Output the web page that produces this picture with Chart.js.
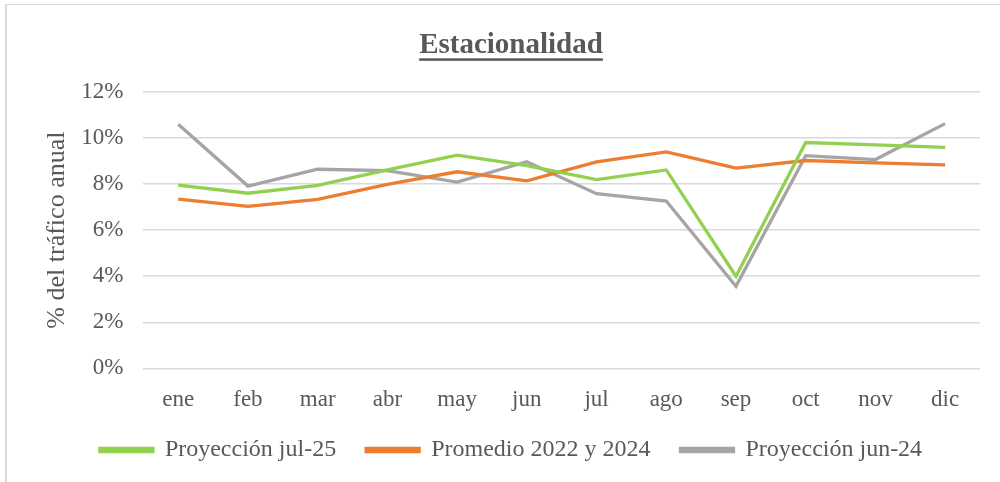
<!DOCTYPE html>
<html>
<head>
<meta charset="utf-8">
<script src="https://cdn.jsdelivr.net/npm/chart.js@4.4.0/dist/chart.umd.min.js"></script>
<style>
  body { margin: 0; background: #fff; }
  #frame { position: absolute; left: 5px; top: 4px; width: 1000px; height: 490px;
           border-top: 1px solid #d9d9d9; border-left: 2px solid #d9d9d9; }
  #wrap { position: absolute; left: 0; top: 0; width: 1000px; height: 482px; }
</style>
</head>
<body>
<div id="frame"></div>
<div id="wrap"><canvas id="estacionalidad_canvas"></canvas></div>
<script>
var meses = ['ene','feb','mar','abr','may','jun','jul','ago','sep','oct','nov','dic'];
var proyeccion_jul25 = [7.95, 7.60, 7.94, 8.61, 9.25, 8.80, 8.19, 8.61, 4.00, 9.80, 9.70, 9.59];
var promedio_2022_2024 = [7.34, 7.03, 7.33, 7.98, 8.53, 8.14, 8.96, 9.39, 8.69, 9.02, 8.92, 8.83];
var proyeccion_jun24 = [10.59, 7.91, 8.64, 8.58, 8.08, 8.97, 7.58, 7.26, 3.56, 9.23, 9.06, 10.62];
var y_ticks = [0, 2, 4, 6, 8, 10, 12];

var text_color = '#595959';
var serif = "'Liberation Serif', 'Times New Roman', serif";
var x_axis_squeeze = 16;

// underline under the chart title
var title_underline = {
  id: 'title_underline',
  afterLayout: function(chart)
  {
    // x axis box was shrunk to pull the legend up; widen it back so labels are not clipped
    chart.scales.x.bottom += x_axis_squeeze;
  },
  afterDraw: function(chart)
  {
    var ctx = chart.ctx;
    var tb = chart.titleBlock;
    var title_opts = chart.options.plugins.title;
    ctx.save();
    ctx.font = 'bold 29px ' + serif;
    var w = ctx.measureText(title_opts.text).width;
    var cx = (tb.left + tb.right) / 2;
    ctx.fillStyle = text_color;
    ctx.fillRect(cx - w / 2, tb.bottom - title_opts.padding.bottom - 4.5, w, 2.5);
    ctx.restore();
  }
};

var line_set = function(label, values, color)
{
  return {
    label: label,
    data: values,
    borderColor: color,
    backgroundColor: color,
    borderWidth: 3.3,
    pointRadius: 0,
    tension: 0
  };
};

new Chart(document.getElementById('estacionalidad_canvas').getContext('2d'), {
  type: 'line',
  data: {
    labels: meses,
    datasets: [
      line_set('Proyección jul-25', proyeccion_jul25, '#92d050'),
      line_set('Promedio 2022 y 2024', promedio_2022_2024, '#ed7d31'),
      line_set('Proyección jun-24', proyeccion_jun24, '#a5a5a5')
    ]
  },
  options: {
    responsive: true,
    maintainAspectRatio: false,
    animation: false,
    layout: { padding: { left: 42, right: 20, top: 14, bottom: 10 } },
    plugins: {
      title: {
        display: true,
        text: 'Estacionalidad',
        color: text_color,
        font: { family: serif, size: 29, weight: 'bold' },
        padding: { top: 14, bottom: 29 }
      },
      legend: {
        position: 'bottom',
        labels: {
          color: text_color,
          font: { family: serif, size: 24 },
          boxWidth: 53,
          boxHeight: 3,
          padding: 30
        }
      },
      tooltip: { enabled: false }
    },
    scales: {
      x: {
        offset: true,
        grid: { display: false },
        border: { display: false },
        ticks: { color: text_color, font: { family: serif, size: 23 }, padding: 10 },
        afterFit: function(axis) { axis.height -= x_axis_squeeze; }
      },
      y: {
        min: 0,
        max: 12,
        afterBuildTicks: function(axis) { axis.ticks = y_ticks.map(function(v) { return { value: v }; }); },
        grid: { color: '#d9d9d9', lineWidth: 1.5, drawTicks: false },
        border: { display: false },
        ticks: {
          color: text_color,
          font: { family: serif, size: 23 },
          padding: 20,
          callback: function(v) { return v + '%'; }
        },
        title: {
          display: true,
          text: '% del tráfico anual',
          color: text_color,
          font: { family: serif, size: 26 },
          padding: { top: 0, bottom: -12 }
        }
      }
    }
  },
  plugins: [title_underline]
});
</script>
</body>
</html>
